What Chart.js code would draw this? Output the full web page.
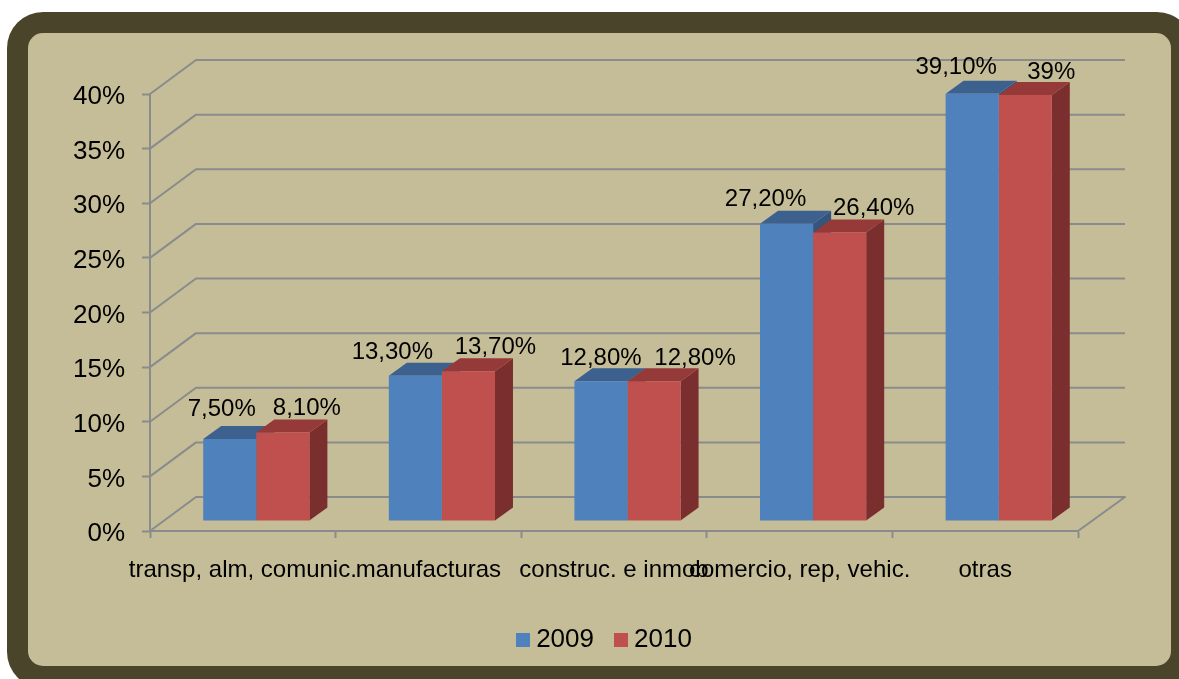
<!DOCTYPE html>
<html><head><meta charset="utf-8">
<style>html,body{margin:0;padding:0;background:#fff}canvas{display:block}</style>
<script src="https://cdn.jsdelivr.net/npm/chart.js@4"></script></head>
<body><canvas id="c" width="1179" height="679"></canvas>
<script>
const categories = ['transp, alm, comunic.', 'manufacturas', 'construc. e inmob', 'comercio, rep, vehic.', 'otras'];
const values2009 = [7.5, 13.3, 12.8, 27.2, 39.1];
const values2010 = [8.1, 13.7, 12.8, 26.4, 39];
const labels2009 = ['7,50%', '13,30%', '12,80%', '27,20%', '39,10%'];
const labels2010 = ['8,10%', '13,70%', '12,80%', '26,40%', '39%'];
const labelOffsets2009 = [[-8,-30],[-23,-23],[0,-23],[-21,-24],[-16,-26]];
const labelOffsets2010 = [[24,-24],[27,-24],[41,-23],[34,-24],[26,-23]];
const FONT = '"Liberation Sans", Arial, sans-serif';
const GRID = '#8a8b8c', BG = '#c4bd97', DARK = '#4a452a';
const WALL = {dx: 46, dy: -34}, SHIFT = {dx: 13.5, dy: -10}, BAR = {dx: 18, dy: -13};
const shades = [{front:'#4f81bd', top:'#3c618f', side:'#34547c'}, {front:'#c0504d', top:'#953a38', side:'#7a2f2e'}];

function swatch(color){
  const s = document.createElement('canvas'); s.width = 14; s.height = 14;
  const g = s.getContext('2d'); g.fillStyle = color; g.fillRect(0,0,14,14);
  return s;
}
function rr(ctx,x,y,w,h,r){ctx.beginPath();ctx.roundRect(x,y,w,h,r);ctx.fill();}

const scene = {
  id: 'scene',
  afterLayout(chart){ const l = chart.legend; l.left += 68; l.right += 68; },
  beforeDraw(chart){
    const ctx = chart.ctx;
    ctx.save();
    ctx.fillStyle = DARK; rr(ctx,7,12,1186,676,36);
    ctx.fillStyle = BG; rr(ctx,28,33,1143,633,15);
    ctx.restore();
  },
  beforeDatasetsDraw(chart){
    const ctx = chart.ctx, y = chart.scales.y, a = chart.chartArea;
    ctx.save();
    ctx.strokeStyle = GRID; ctx.lineWidth = 2; ctx.lineJoin = 'round';
    y.ticks.forEach(t => {
      const py = y.getPixelForValue(t.value);
      ctx.beginPath();
      ctx.moveTo(a.left, py);
      ctx.lineTo(a.left + WALL.dx, py + WALL.dy);
      ctx.lineTo(a.right + WALL.dx + 1, py + WALL.dy);
      if (t.value === 0) ctx.lineTo(a.right, py);
      ctx.stroke();
    });
    ctx.restore();
    ctx.save();
    ctx.translate(SHIFT.dx, SHIFT.dy);
    categories.forEach((_, i) => {
      [0,1].forEach(d => {
        const el = chart.getDatasetMeta(d).data[i];
        const w = el.width / 2, l = el.x - w, r = el.x + w, t = el.y, b = el.base;
        ctx.fillStyle = shades[d].side;
        ctx.beginPath(); ctx.moveTo(r,t); ctx.lineTo(r+BAR.dx,t+BAR.dy); ctx.lineTo(r+BAR.dx,b+BAR.dy); ctx.lineTo(r,b); ctx.closePath(); ctx.fill();
        ctx.fillStyle = shades[d].top;
        ctx.beginPath(); ctx.moveTo(l,t); ctx.lineTo(l+BAR.dx,t+BAR.dy); ctx.lineTo(r+BAR.dx,t+BAR.dy); ctx.lineTo(r,t); ctx.closePath(); ctx.fill();
      });
    });
    ctx.restore();
    ctx.save();
    ctx.translate(SHIFT.dx, SHIFT.dy);
  },
  afterDatasetsDraw(chart){
    const ctx = chart.ctx;
    ctx.restore();
    ctx.save();
    ctx.font = '24px ' + FONT; ctx.fillStyle = '#000';
    ctx.textAlign = 'center'; ctx.textBaseline = 'middle';
    [[labels2009,labelOffsets2009],[labels2010,labelOffsets2010]].forEach(([txt,off],d) => {
      chart.getDatasetMeta(d).data.forEach((el,i) => {
        ctx.fillText(txt[i], el.x + SHIFT.dx + off[i][0], el.y + SHIFT.dy + off[i][1]);
      });
    });
    ctx.restore();
  }
};

new Chart(document.getElementById('c'), {
  type: 'bar',
  data: { labels: categories, datasets: [
    {label:'2009', data: values2009, backgroundColor: shades[0].front, clip:false},
    {label:'2010', data: values2010, backgroundColor: shades[1].front, clip:false}
  ]},
  options: {
    responsive:false, animation:false,
    layout:{padding:{left:0,right:101,top:94,bottom:16}},
    datasets:{bar:{barPercentage:1,categoryPercentage:0.572}},
    scales:{
      x:{
        afterFit(s){ s.height = 70; },
        border:{color:GRID,width:2},
        grid:{display:true,drawOnChartArea:false,drawTicks:true,tickLength:7,tickWidth:2,tickColor:GRID,offset:true},
        ticks:{color:'#000',font:{family:FONT,size:24},maxRotation:0,minRotation:0,autoSkip:false,padding:18}
      },
      y:{
        min:0,max:40,
        afterFit(s){ s.width = 150; },
        border:{color:GRID,width:2},
        grid:{display:true,drawOnChartArea:false,drawTicks:true,tickLength:8,tickWidth:2,tickColor:GRID},
        ticks:{stepSize:5,color:'#000',font:{family:FONT,size:26},padding:17,labelOffset:3,callback:v=>v+'%'}
      }
    },
    plugins:{
      tooltip:{enabled:false},
      legend:{position:'bottom',labels:{
        color:'#000',font:{family:FONT,size:26},padding:26,usePointStyle:true,pointStyleWidth:1,
        generateLabels(chart){
          return chart.data.datasets.map((d,i)=>({text:d.label,fillStyle:d.backgroundColor,strokeStyle:d.backgroundColor,lineWidth:0,pointStyle:swatch(d.backgroundColor),hidden:false,datasetIndex:i,fontColor:'#000'}));
        }
      }}
    }
  },
  plugins:[scene]
});
</script></body></html>
